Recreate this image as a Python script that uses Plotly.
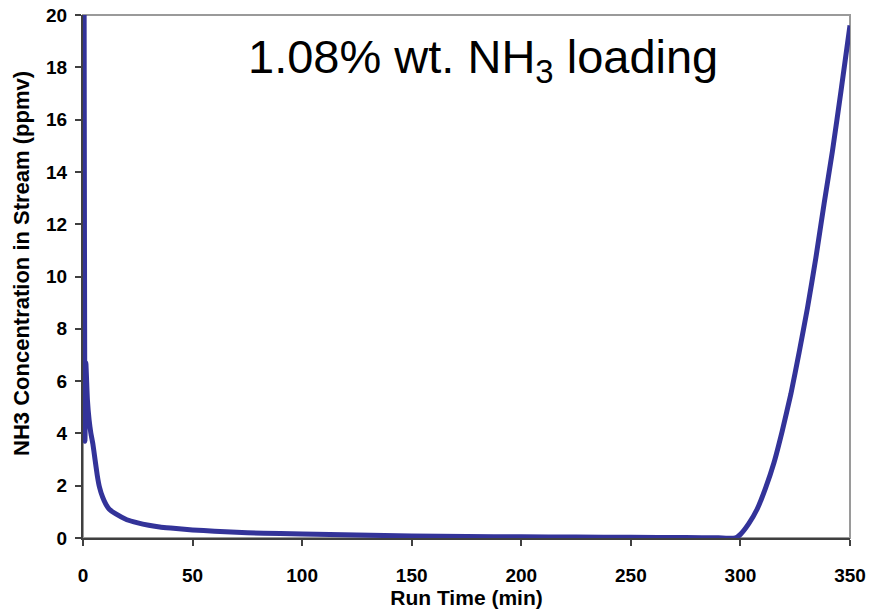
import plotly.graph_objects as go

# Run time (min) and measured NH3 concentration (ppmv)
run_time = [0.5, 0.9, 1.3, 2.0, 2.8, 3.6, 4.5, 5.5, 6.5, 7.5, 9.0, 10.5, 12.0,
            15.0, 20.0, 25.0, 30.0, 35.0, 40.0, 50.0, 60.0, 75.0, 90.0, 100.0,
            125.0, 150.0, 175.0, 200.0, 225.0, 250.0, 275.0, 290.0, 297.7,
            300.0, 303.8, 307.6, 311.5, 315.3, 319.1, 323.0, 326.8, 330.6,
            334.4, 338.2, 342.0, 345.9, 350.0]
nh3_ppmv = [21.0, 3.7, 6.7, 5.3, 4.5, 4.0, 3.6, 3.0, 2.4, 1.95, 1.55, 1.28, 1.1,
            0.92, 0.70, 0.58, 0.49, 0.42, 0.38, 0.31, 0.26, 0.20, 0.17, 0.15,
            0.11, 0.08, 0.06, 0.045, 0.035, 0.025, 0.015, 0.01, 0.0,
            0.14, 0.55, 1.1, 1.92, 2.88, 4.1, 5.5, 7.1, 8.8,
            10.7, 12.8, 14.8, 17.1, 19.6]

x_ticks = [0, 50, 100, 150, 200, 250, 300, 350]
y_ticks = [0, 2, 4, 6, 8, 10, 12, 14, 16, 18, 20]

font_family = "Liberation Sans, Arial, sans-serif"

fig = go.Figure()
fig.add_trace(go.Scatter(
    x=run_time, y=nh3_ppmv, mode="lines",
    line=dict(color="#333399", width=5, shape="spline", smoothing=0.4),
    showlegend=False,
))

# light frame around the plotting area (top/right edges)
fig.add_shape(type="rect", xref="paper", yref="paper", x0=0, y0=0, x1=1, y1=1,
              line=dict(color="#9a9a9a", width=2), layer="below")

fig.add_annotation(
    x=0.522, y=0.975, xref="paper", yref="paper", yanchor="top",
    text="1.08% wt. NH<sub>3</sub> loading", showarrow=False,
    font=dict(family=font_family, size=47, color="black"),
)

# y-axis title, placed slightly above the plot's vertical centre
fig.add_annotation(
    x=-0.0795, y=0.524, xref="paper", yref="paper",
    xanchor="center", yanchor="middle", textangle=-90,
    text="<b>NH3 Concentration in Stream (ppmv)</b>", showarrow=False,
    font=dict(family=font_family, size=22, color="black"),
)

axis_common = dict(
    showgrid=False, zeroline=False, showline=True, automargin=False,
    linecolor="#404040", linewidth=2,
    ticks="outside", ticklen=6, tickcolor="#404040", tickwidth=1.5,
    tickfont=dict(family=font_family, size=19, color="black"),
)

fig.update_xaxes(
    range=[0, 350], tickvals=x_ticks,
    ticktext=[f"<b>{v}</b>" for v in x_ticks],
    ticklabelstandoff=13,
    title=dict(text="<b>Run Time (min)</b>", standoff=6,
               font=dict(family=font_family, size=21, color="black")),
    **axis_common,
)
fig.update_yaxes(
    range=[0, 20], tickvals=y_ticks,
    ticktext=[f"<b>{v}</b>" for v in y_ticks],
    ticklabelstandoff=4,
    **axis_common,
)

fig.update_layout(
    width=869, height=611,
    margin=dict(l=83, r=19, t=15, b=73),
    plot_bgcolor="white", paper_bgcolor="white",
)

fig.write_html("out.html")
